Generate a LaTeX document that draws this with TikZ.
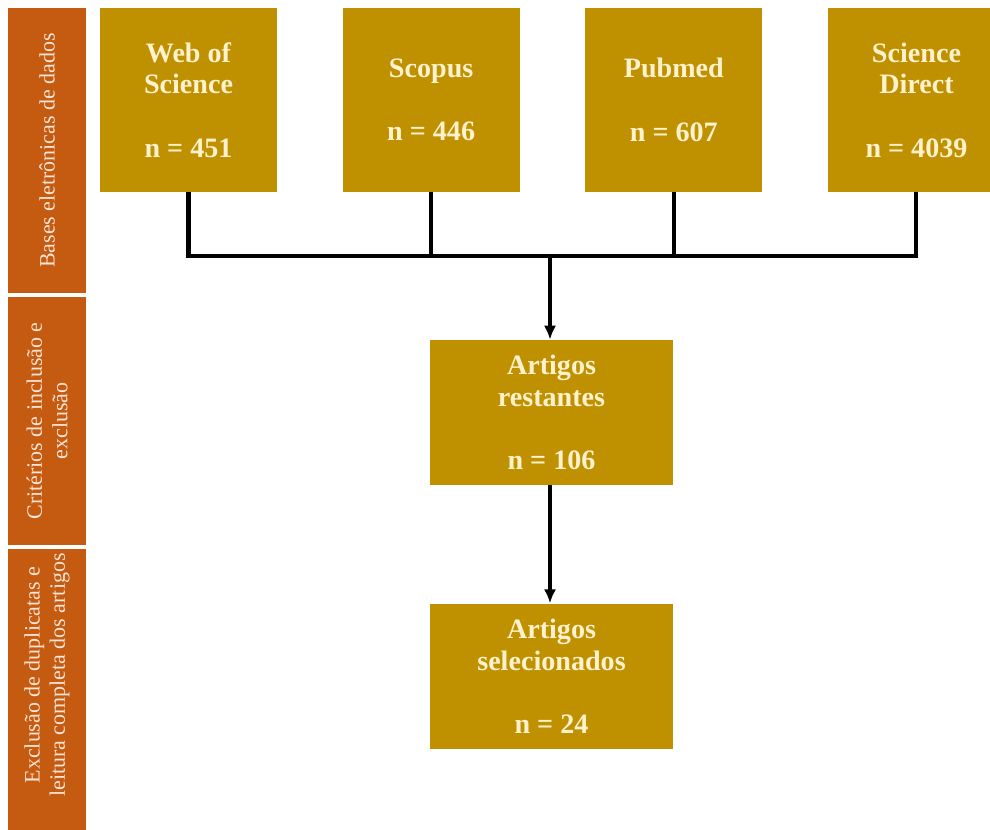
\documentclass[tikz,border=0pt]{standalone}
\usepackage{fontspec}
\setmainfont{Liberation Serif}
\usepackage{xcolor}
\usetikzlibrary{arrows.meta,positioning}
\definecolor{boxgold}{HTML}{BF9000}
\definecolor{boxtext}{HTML}{FFF2CC}
\definecolor{phaseorange}{HTML}{C55A11}
\definecolor{phasetext}{HTML}{FBE5D6}
\begin{document}
\begin{tikzpicture}[x=0.02cm,y=-0.02cm,node distance=1.3cm]
  \tikzset{dbbox/.style={fill=boxgold, text=boxtext, font=\bfseries\fontsize{16}{18}\selectfont, align=center, inner sep=0pt, minimum width=3.54cm, minimum height=3.68cm},
    countbox/.style={dbbox, minimum width=4.86cm, minimum height=2.9cm},
    phasebar/.style={fill=phaseorange, text=phasetext, font=\fontsize{12.5}{14.5}\selectfont, align=center, rotate=90, inner sep=0pt, minimum height=1.56cm},
    joinline/.style={line width=2.3pt, black}}
  \useasboundingbox (0,0) rectangle (990,830);
  % phases on the left
  \fill[phaseorange] (8,790) rectangle (86,830);
  \node[phasebar, minimum width=5.7cm] (ph1) at (47,150.5) {Bases eletrônicas de dados};
  \node[phasebar, minimum width=4.96cm] (ph2) at (47,421) {Critérios de inclusão e\\exclusão};
  \node[phasebar, minimum width=5.04cm] (ph3) at (47,675) {Exclusão de duplicatas e\\leitura completa dos artigos};
  % databases
  \node[dbbox] (wos) at (188.5,100) {Web of\\Science\\\mbox{}\\n = 451};
  \node[dbbox, right=of wos] (scopus) {Scopus\\\mbox{}\\n = 446};
  \node[dbbox, right=of scopus] (pubmed) {Pubmed\\\mbox{}\\n = 607};
  \node[dbbox, right=of pubmed] (sd) {Science\\Direct\\\mbox{}\\n = 4039};
  % results
  \coordinate (hub) at (550,256);
  \node[countbox] (rest) at (551.5,412.5) {Artigos\\restantes\\\mbox{}\\n = 106};
  \node[countbox, below=2.36cm of rest] (sel) {Artigos\\selecionados\\\mbox{}\\n = 24};
  \draw[joinline] (wos.south) |- (hub);
  \draw[joinline] (scopus.south) |- (hub);
  \draw[joinline] (pubmed.south) |- (hub);
  \draw[joinline] (sd.south) |- (hub);
  \draw[joinline, -{Latex[length=8pt,width=7pt]}] (hub) -- (hub |- rest.north);
  \draw[joinline, -{Latex[length=8pt,width=7pt]}] (rest.south -| hub) -- (hub |- sel.north);
\end{tikzpicture}
\end{document}
